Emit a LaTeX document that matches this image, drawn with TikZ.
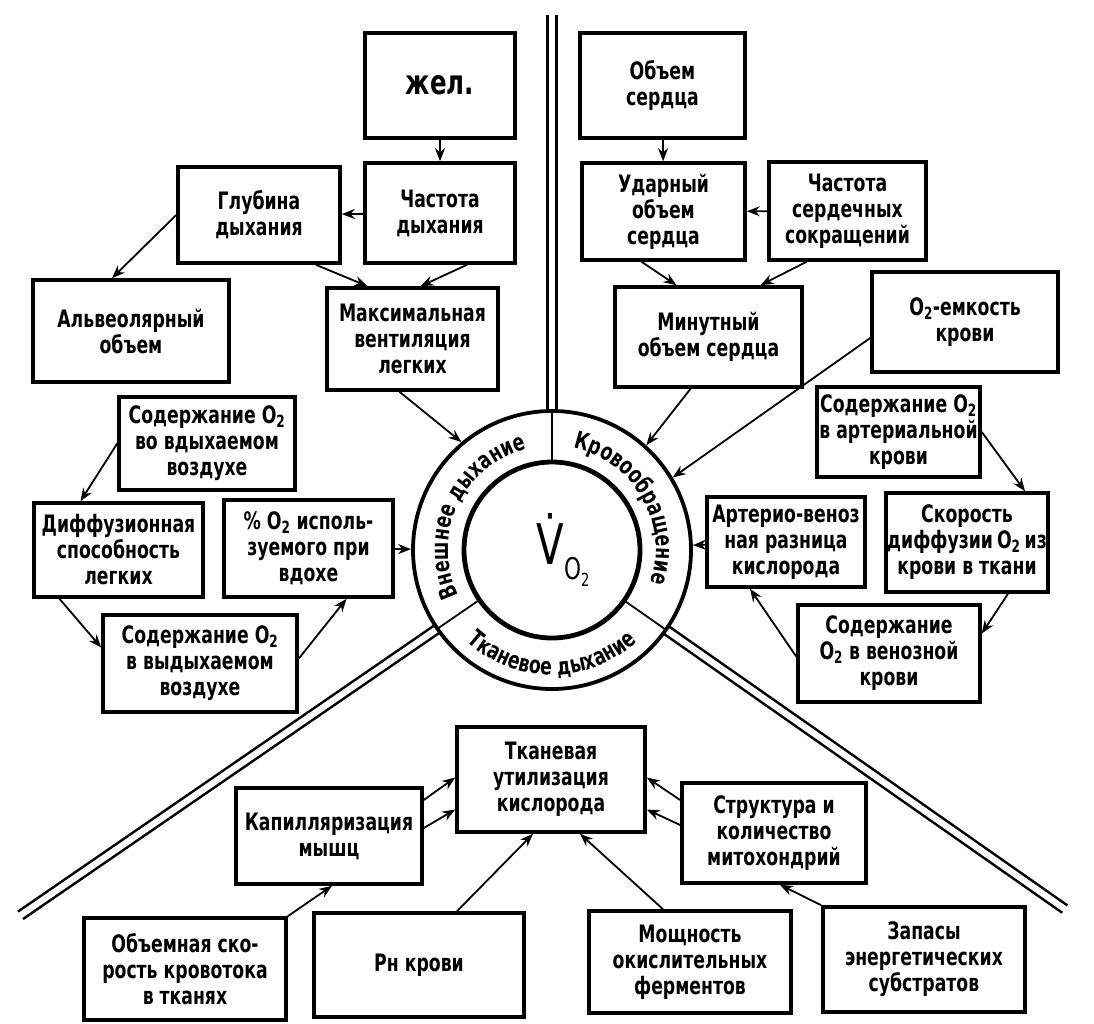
\documentclass[tikz,border=0pt]{standalone}
\usepackage{fontspec}
\setmainfont{DejaVu Sans Condensed}[FakeStretch=0.8]
\usetikzlibrary{arrows.meta,decorations.text}
\newcommand\ringfont{\bfseries\fontsize{24}{24}\selectfont}

\begin{document}
\begin{tikzpicture}[x=1pt,y=-1pt]
\tikzstyle{block}=[draw,line width=3.6pt,align=center,inner sep=1pt,font=\bfseries\fontsize{24}{26}\selectfont]
\tikzstyle{link}=[line width=1.8pt,-{Stealth[length=13pt,width=10pt]}]
\tikzstyle{rail}=[line width=2.4pt]
\useasboundingbox (0,0) rectangle (1094,1023);
\node[block,minimum width=150pt,minimum height=105pt,font=\bfseries\fontsize{34}{38}\selectfont] (zhel) at (440,85.5) {жел.};
\node[block,minimum width=150pt,minimum height=100pt] (chastd) at (440,213) {Частота\\дыхания};
\node[block,minimum width=162pt,minimum height=96pt] (glub) at (259,215) {Глубина\\дыхания};
\node[block,minimum width=196pt,minimum height=102pt] (alv) at (131,331) {Альвеолярный\\объем};
\node[block,minimum width=171pt,minimum height=102pt] (maxv) at (412.5,339) {Максимальная\\вентиляция\\легких};
\node[block,minimum width=165pt,minimum height=105pt] (obsr) at (662.5,85.5) {Объем\\сердца};
\node[block,minimum width=163pt,minimum height=97pt] (udar) at (663.5,211.5) {Ударный\\объем\\сердца};
\node[block,minimum width=157pt,minimum height=98pt] (chss) at (847.5,211) {Частота\\сердечных\\сокращений};
\node[block,minimum width=187pt,minimum height=100pt] (minut) at (708.5,337) {Минутный\\объем сердца};
\node[block,minimum width=186pt,minimum height=100pt] (o2cap) at (965,322) {O\textsubscript{2}-емкость\\крови};
\node[block,minimum width=176pt,minimum height=93pt] (sodvd) at (207,443.5) {Содержание O\textsubscript{2}\\во вдыхаемом\\воздухе};
\node[block,minimum width=169pt,minimum height=94pt] (diff) at (118.5,550) {Диффузионная\\способность\\легких};
\node[block,minimum width=169pt,minimum height=97pt] (pct) at (308.5,548.5) {\% O\textsubscript{2} исполь-\\зуемого при\\вдохе};
\node[block,minimum width=194pt,minimum height=97pt] (sodvyd) at (200,663.5) {Содержание O\textsubscript{2}\\в выдыхаемом\\воздухе};
\node[block,minimum width=163pt,minimum height=90pt] (sodart) at (898.5,432) {Содержание O\textsubscript{2}\\в артериальной\\крови};
\node[block,minimum width=158pt,minimum height=90pt] (arven) at (786,542) {Артерио-веноз\\ная разница\\кислорода};
\node[block,minimum width=162pt,minimum height=99pt] (skor) at (967,542.5) {Скорость\\диффузии\,O\textsubscript{2}\,из\\крови в ткани};
\node[block,minimum width=182pt,minimum height=97pt] (sodven) at (889,653.5) {Содержание\\O\textsubscript{2} в венозной\\крови};
\node[block,minimum width=188pt,minimum height=105pt] (tkan) at (551,779.5) {Тканевая\\утилизация\\кислорода};
\node[block,minimum width=186pt,minimum height=96pt] (kap) at (329,836) {Капилляризация\\мышц};
\node[block,minimum width=184pt,minimum height=100pt] (struct) at (774,833) {Структура и\\количество\\митохондрий};
\node[block,minimum width=202pt,minimum height=102pt] (obsk) at (185,969) {Объемная ско-\\рость кровотока\\в тканях};
\node[block,minimum width=210pt,minimum height=104pt] (rn) at (419,965) {Рн крови};
\node[block,minimum width=202pt,minimum height=102pt] (mosh) at (690,962) {Мощность\\окислительных\\ферментов};
\node[block,minimum width=202pt,minimum height=105pt] (zapas) at (924,959.5) {Запасы\\энергетических\\субстратов};
\node[circle,draw,line width=3.8pt,minimum size=278pt,inner sep=0pt] (ring) at (552,550) {};
\node[circle,draw,line width=4.8pt,minimum size=176pt,inner sep=0pt] (core) at (552,550) {};
\node (vo2) at (563,550) {\fontsize{56}{56}\selectfont V^^^^0307\raisebox{-15pt}{\fontsize{30}{30}\selectfont O\raisebox{-7pt}{\fontsize{18}{18}\selectfont 2}}};
\begin{scope}[shift={(552,550)},y=1pt]
\draw[line width=1.8pt] (90:88) -- (90:139);
\draw[line width=1.8pt] (214.5:88) -- (214.5:139);
\draw[line width=1.8pt] (-35:88) -- (-35:139);
\draw[rail] (-4.5,138.9) -- (-4.5,535);
\draw[rail] (4.5,138.9) -- (4.5,535);
\foreach \s in {-4.5,4.5} {
\draw[rail] ([shift={(124.5:\s)}]214.5:139) -- ([shift={(124.5:\s)}]214.5:645);
\draw[rail] ([shift={(55:\s)}]-35:139) -- ([shift={(55:\s)}]-35:626);
}
\path[decorate,decoration={text along path,text align=center,text={|\ringfont|Внешнее дыхание}}] (215:104) arc[start angle=215,end angle=95,radius=104];
\path[decorate,decoration={text along path,text align=center,text={|\ringfont|Кровообращение}}] (90:104) arc[start angle=90,end angle=-30,radius=104];
\path[decorate,decoration={text along path,text align=center,text={|\ringfont|Тканевое дыхание}}] (205:125) arc[start angle=205,end angle=335,radius=125];
\end{scope}
\draw[link] (zhel) -- (chastd);
\draw[link] (chastd) -- (glub);
\draw[link] (glub.west) -- ([xshift=-19pt]alv.north);
\draw[link] ([xshift=57pt]glub.south) -- ([xshift=-45pt]maxv.north);
\draw[link] ([xshift=27pt]chastd.south) -- ([xshift=8pt]maxv.north);
\draw[link] ([xshift=-13pt]maxv.south) -- (ring.130);
\draw[link] (obsr) -- (udar);
\draw[link] (chss) -- (udar);
\draw[link] ([xshift=-22pt]udar.south) -- ([xshift=-32pt]minut.north);
\draw[link] ([xshift=-41pt]chss.south) -- ([xshift=52pt]minut.north);
\draw[link] ([xshift=-18pt]minut.south) -- (ring.48);
\draw[link] ([yshift=-16pt]o2cap.west) -- (ring.31);
\draw[link] (sodvd.west) -- ([xshift=-38pt]diff.north);
\draw[link] ([xshift=-59pt]diff.south) -- ([yshift=16pt]sodvyd.west);
\draw[link] ([yshift=5pt]sodvyd.east) -- ([xshift=38pt]pct.south);
\draw[link] (pct) -- (ring);
\draw[link] (sodart.east) -- ([xshift=58pt]skor.north);
\draw[link] ([xshift=41pt]skor.south) -- ([yshift=20pt]sodven.east);
\draw[link] ([yshift=-3pt]sodven.west) -- ([xshift=-36pt]arven.south);
\draw[link] (arven) -- (ring);
\draw[link] ([yshift=36pt]kap.east) -- ([yshift=2pt]tkan.west);
\draw[link] ([yshift=8pt]kap.east) -- ([yshift=-30pt]tkan.west);
\draw[link] ([yshift=33pt]struct.west) -- ([yshift=2pt]tkan.east);
\draw[link] ([yshift=8pt]struct.west) -- ([yshift=-30pt]tkan.east);
\draw[link] (obsk.north east) -- ([xshift=3pt]kap.south);
\draw[link] ([xshift=38pt]rn.north) -- ([xshift=-18pt]tkan.south);
\draw[link] ([xshift=-27pt]mosh.north) -- ([xshift=29pt]tkan.south);
\draw[link] (zapas.north west) -- ([xshift=6pt]struct.south);
\end{tikzpicture}
\end{document}
